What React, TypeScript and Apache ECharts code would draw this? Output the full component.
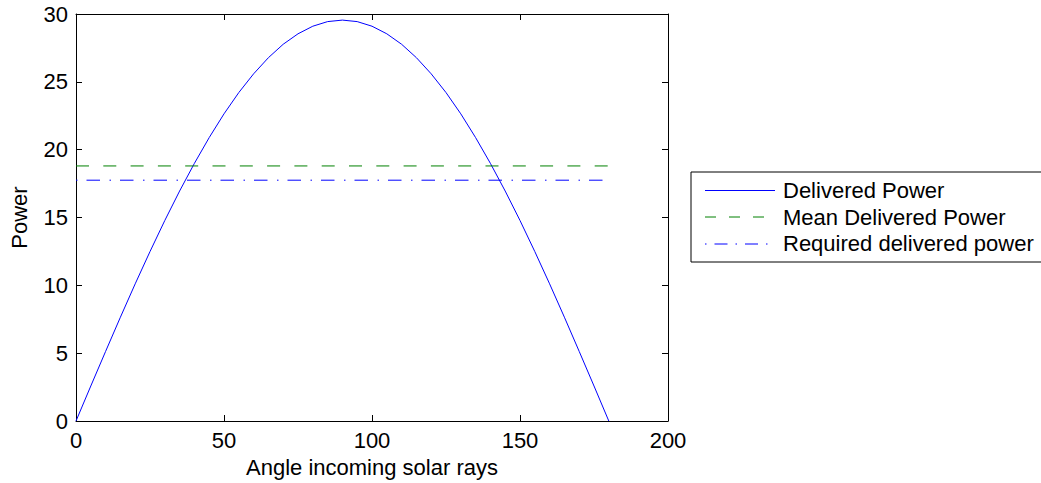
import React, { useEffect, useRef } from "react";
import * as echarts from "echarts";

const angles = [0, 5, 10, 15, 20, 25, 30, 35, 40, 45, 50, 55, 60, 65, 70, 75, 80, 85, 90, 95, 100, 105, 110, 115, 120, 125, 130, 135, 140, 145, 150, 155, 160, 165, 170, 175, 180];
const deliveredPower = [0, 2.58, 5.13, 7.65, 10.11, 12.49, 14.78, 16.95, 18.99, 20.89, 22.64, 24.21, 25.59, 26.78, 27.77, 28.54, 29.1, 29.44, 29.55, 29.44, 29.1, 28.54, 27.77, 26.78, 25.59, 24.21, 22.64, 20.89, 18.99, 16.95, 14.78, 12.49, 10.11, 7.65, 5.13, 2.58, 0];
const meanRange = [0, 180];
const meanPower = [18.8, 18.8];
const requiredRange = [0, 180];
const requiredPower = [17.75, 17.75];
const xTicks = [0, 50, 100, 150, 200];
const yTicks = [0, 5, 10, 15, 20, 25, 30];
const legendNames = ["Delivered Power", "Mean Delivered Power", "Required delivered power"];

const FONT = "'Liberation Sans', Arial, Helvetica, sans-serif";

export default function App() {
  const ref = useRef<HTMLDivElement>(null);
  useEffect(() => {
    document.body.style.margin = "0";
    const chart = echarts.init(ref.current!, null, { renderer: "svg" });
    const gl = 73, gt = 14, gw = 595, gh = 407;
    const axisCommon = {
      type: "value" as const,
      axisLine: { show: true, onZero: false, lineStyle: { color: "#000", width: 1 } },
      axisTick: { show: true, inside: true, length: 6, lineStyle: { color: "#000", width: 1 } },
      splitLine: { show: false },
    };
    const lx0 = 705, lx1 = 775, ltx = 783;
    const lineRows = [190.5, 217, 244];
    const textRows = [190.5, 217, 243.5];
    chart.setOption({
      animation: false,
      backgroundColor: "#fff",
      color: ["#0000ff", "#008000", "#0000ff"],
      grid: { left: gl, top: gt, width: gw, height: gh, containLabel: false },
      xAxis: [
        {
          ...axisCommon,
          position: "bottom",
          min: xTicks[0],
          max: xTicks[xTicks.length - 1],
          interval: 50,
          axisLabel: { color: "#000", fontSize: 22, fontFamily: FONT, margin: 8 },
          name: "Angle incoming solar rays",
          nameLocation: "middle",
          nameGap: 35,
          nameTextStyle: { color: "#000", fontSize: 22, fontFamily: FONT },
        },
        {
          ...axisCommon,
          position: "top",
          min: xTicks[0],
          max: xTicks[xTicks.length - 1],
          interval: 50,
          axisLabel: { show: false },
        },
      ],
      yAxis: [
        {
          ...axisCommon,
          position: "left",
          min: yTicks[0],
          max: yTicks[yTicks.length - 1],
          interval: 5,
          axisLabel: { color: "#000", fontSize: 22, fontFamily: FONT, margin: 8 },
          name: "Power",
          nameLocation: "middle",
          nameGap: 46,
          nameTextStyle: { color: "#000", fontSize: 22, fontFamily: FONT },
        },
        {
          ...axisCommon,
          position: "right",
          min: yTicks[0],
          max: yTicks[yTicks.length - 1],
          interval: 5,
          axisLabel: { show: false },
        },
      ],
      series: [
        {
          name: legendNames[0],
          type: "line",
          color: "#0000ff",
          xAxisIndex: 0,
          yAxisIndex: 0,
          data: angles.map((a, i) => [a, deliveredPower[i]]),
          showSymbol: false,
          symbol: "none",
          lineStyle: { color: "#0000ff", width: 1 },
        },
        {
          name: legendNames[1],
          type: "line",
          color: "#008000",
          xAxisIndex: 0,
          yAxisIndex: 0,
          data: meanRange.map((a, i) => [a, meanPower[i]]),
          showSymbol: false,
          symbol: "none",
          lineStyle: { color: "#008000", width: 1, type: [13, 14.3] },
        },
        {
          name: legendNames[2],
          type: "line",
          color: "#0000ff",
          xAxisIndex: 0,
          yAxisIndex: 0,
          data: requiredRange.map((a, i) => [a, requiredPower[i]]),
          showSymbol: false,
          symbol: "none",
          lineStyle: { color: "#0000ff", width: 1, type: [1.5, 9, 13.5, 9.5] },
        },
      ],
      graphic: [
        {
          type: "rect",
          shape: { x: 691, y: 172, width: 400, height: 90 },
          style: { fill: "#fff", stroke: "#000", lineWidth: 1 },
          z: 10,
        },
        {
          type: "line",
          shape: { x1: lx0, y1: lineRows[0], x2: lx1, y2: lineRows[0] },
          style: { stroke: "#0000ff", lineWidth: 1 },
          z: 11,
        },
        {
          type: "line",
          shape: { x1: lx0, y1: lineRows[1], x2: lx1, y2: lineRows[1] },
          style: { stroke: "#008000", lineWidth: 1, lineDash: [11, 13] },
          z: 11,
        },
        {
          type: "line",
          shape: { x1: lx0, y1: lineRows[2], x2: lx1, y2: lineRows[2] },
          style: { stroke: "#0000ff", lineWidth: 1, lineDash: [1.5, 8, 13, 8] },
          z: 11,
        },
        ...legendNames.map((n, i) => ({
          type: "text",
          x: ltx,
          y: textRows[i],
          style: { text: n, fill: "#000", fontSize: 22, fontFamily: FONT, verticalAlign: "middle", align: "left" },
          z: 11,
        })),
      ],
    });
    return () => chart.dispose();
  }, []);
  return <div ref={ref} style={{ width: 1041, height: 483 }} />;
}
